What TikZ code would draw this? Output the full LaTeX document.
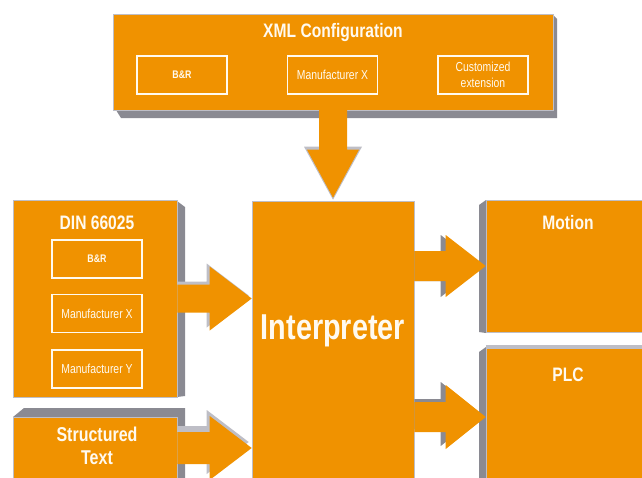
\documentclass[tikz,border=0pt]{standalone}
\usepackage{fontspec}
\usetikzlibrary{calc}
\newfontfamily\condfont[FakeStretch=0.8]{Liberation Sans}
\definecolor{boxorange}{RGB}{240,146,0}
\definecolor{sidegrey}{RGB}{138,138,146}
\definecolor{rimgrey}{RGB}{190,190,198}
\definecolor{labelwhite}{RGB}{255,250,240}

% rightward block arrow: #2 start, #3 tip, #4 shaft half width, #5 head half width,
% #6 head length, #7/#8 offset of the shape apart from its start edge (canvas pt)
\newcommand\rightblock[8][]{%
  \path[#1] let \p1=(#2), \p2=(#3) in
    (\x1,\y1+#8pt+#4pt) -- (\x2+#7pt-#6pt,\y1+#8pt+#4pt) -- (\x2+#7pt-#6pt,\y1+#8pt+#5pt)
    -- (\x2+#7pt,\y1+#8pt) -- (\x2+#7pt-#6pt,\y1+#8pt-#5pt) -- (\x2+#7pt-#6pt,\y1+#8pt-#4pt)
    -- (\x1,\y1+#8pt-#4pt) -- cycle;}

\begin{document}
\begin{tikzpicture}[x=1pt,y=-1pt,
  box/.style={fill=boxorange, draw=rimgrey, line width=0.6pt, inner sep=0pt},
  sub/.style={draw=labelwhite, line width=1.1pt, minimum width=90pt, minimum height=38pt,
    inner sep=0pt, text=labelwhite, align=center,
    font=\condfont\fontsize{13}{16}\selectfont},
  subbold/.style={sub, font=\condfont\bfseries\fontsize{11}{13}\selectfont},
  title/.style={text=labelwhite, inner sep=0pt, align=center,
    font=\condfont\bfseries\fontsize{19.5}{23}\selectfont},
  side/.style={fill=sidegrey},
  arrowbody/.style={fill=boxorange},
  arrowshade/.style={fill=rimgrey}]

\useasboundingbox (0,0) rectangle (642,477);
\fill[white] (0,0) rectangle (642,477);
\clip (0,0) rectangle (642,477);

% ---- side faces of the blocks ----
\fill[side] (116,110) -- (553,110) -- (553,15) -- (557,19) -- (557,118) -- (121,118) -- cycle;
\fill[side] (177,201) -- (185,207) -- (185,396) -- (177,397) -- cycle;
\fill[side] (13,417) -- (24,408) -- (185,408) -- (185,480) -- (177,480) -- (177,417) -- cycle;
\fill[side] (486,200) -- (479,205) -- (479,332) -- (486,333) -- cycle;
\fill[side] (486,347) -- (479,352) -- (479,480) -- (486,480) -- cycle;
\fill[rimgrey] (486,345) -- (650,345) -- (650,348) -- (486,348) -- cycle;

% ---- blocks ----
\node[box, minimum width=440pt, minimum height=96pt] (xml) at (333,62) {};
\node[title] (xmltitle) at (333,32) {XML Configuration};
\node[subbold] (xbr) at (182,75) {B\&R};
\node[sub] (xmx) at (332.5,75) {Manufacturer X};
\node[sub] (xcust) at (483,75) {Customized\\extension};

\node[box, minimum width=162pt, minimum height=289pt] (interp) at (333,345.5) {};
\node[text=labelwhite, inner sep=0pt,
  font=\condfont\bfseries\fontsize{36}{40}\selectfont] (interptitle) at (333,331) {Interpreter};

\node[box, minimum width=164pt, minimum height=197pt] (din) at (95,298.5) {};
\node[title] (dintitle) at (97,223) {DIN 66025};
\node[subbold] (dbr) at (97,259) {B\&R};
\node[sub] (dmx) at (97,313.5) {Manufacturer X};
\node[sub] (dmy) at (97,369) {Manufacturer Y};

\node[box, minimum width=164pt, minimum height=62pt] (st) at (95,448) {};
\node[title, font=\condfont\bfseries\fontsize{20}{23}\selectfont] (sttitle) at (97,446) {Structured\\Text};

\node[box, minimum width=164pt, minimum height=132pt] (motion) at (568,266) {};
\node[title] (motiontitle) at (568,223) {Motion};

\node[box, minimum width=164pt, minimum height=138pt] (plc) at (568,417) {};
\node[title] (plctitle) at (568,375) {PLC};

% ---- block arrows ----
% XML configuration down to the interpreter (grey rim round the head)
\path[arrowshade] let \p1=(xml.south), \p2=(interp.north) in
  (\x1-29pt,\y2+54pt) -- (\x1,\y2+1pt) -- (\x1+29pt,\y2+54pt) -- cycle;
\path[arrowbody] let \p1=(xml.south), \p2=(interp.north) in
  (\x1-14pt,\y1+1pt) -- (\x1-14pt,\y2+51pt) -- (\x1-26pt,\y2+51pt) -- (\x1,\y2+3pt)
  -- (\x1+26pt,\y2+51pt) -- (\x1+14pt,\y2+51pt) -- (\x1+14pt,\y1+1pt) -- cycle;

% DIN 66025 to the interpreter
\coordinate (dintip) at (interp.west |- din.east);
\rightblock[arrowshade]{din.east}{dintip}{14}{32}{42}{-3}{3}
\rightblock[arrowbody]{din.east}{dintip}{14}{32}{42}{0}{0}

% Structured Text to the interpreter
\coordinate (sttip) at (interp.west |- st.east);
\rightblock[arrowshade]{st.east}{sttip}{16}{32}{42}{-3}{6}
\rightblock[arrowbody]{st.east}{sttip}{16}{32}{42}{0}{0}

% interpreter to Motion
\coordinate (motionstart) at (interp.east |- motion.west);
\rightblock[side]{motionstart}{motion.west}{15}{31}{40}{-5}{0}
\rightblock[arrowbody]{motionstart}{motion.west}{15}{31}{40}{0}{0}

% interpreter to PLC
\coordinate (plcstart) at (interp.east |- plc.west);
\rightblock[side]{plcstart}{plc.west}{15}{32}{40}{-5}{3}
\rightblock[arrowbody]{plcstart}{plc.west}{15}{32}{40}{0}{0}

\end{tikzpicture}
\end{document}
